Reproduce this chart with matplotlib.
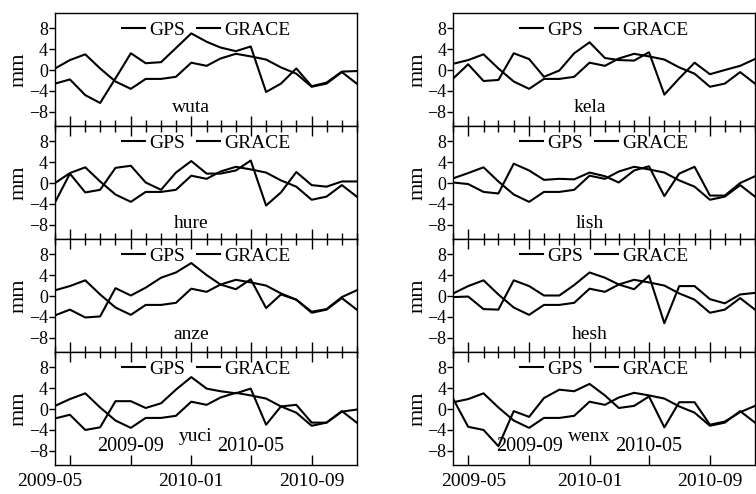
import pandas as pd
import matplotlib
matplotlib.use("Agg")
import matplotlib.pyplot as plt
import matplotlib.dates as mdates
import matplotlib.transforms as mtransforms

plt.rcParams['font.family'] = 'serif'
plt.rcParams['font.serif'] = ['Liberation Serif', 'DejaVu Serif']

# monthly series, 2009-04 .. 2010-12
months = pd.date_range('2009-04-01', periods=21, freq='MS')

grace = [1.0, 1.9, 3.0, 0.3, -2.2, -3.6, -1.7, -1.7, -1.3, 1.4, 0.8,
         2.2, 3.1, 2.6, 2.0, 0.5, -0.7, -3.2, -2.6, -0.4, -2.6]

stations = ['wuta', 'kela', 'hure', 'lish', 'anze', 'hesh', 'yuci', 'wenx']
grace_first = [0.3, 1.2, 0.0, 0.9, 1.1, 0.5, 0.6, 1.3]

wuta = [-2.6, -1.8, -4.8, -6.3, -1.6, 3.2, 1.3, 1.5, 4.2, 7.0, 5.4,
        4.3, 3.6, 4.5, -4.2, -2.6, 0.3, -3.1, -2.4, -0.3, -0.2]
kela = [-1.6, 1.1, -2.1, -1.9, 3.2, 2.1, -1.3, -0.1, 3.2, 5.3, 2.3,
        1.9, 1.8, 3.4, -4.7, -1.6, 1.4, -0.8, 0.0, 0.8, 2.1]
hure = [-3.7, 1.8, -1.8, -1.3, 2.9, 3.3, 0.1, -1.3, 2.0, 4.2, 1.8,
        1.8, 2.4, 4.3, -4.3, -1.8, 2.1, -0.4, -0.7, 0.3, 0.3]
lish = [0.1, -0.2, -1.7, -2.0, 3.7, 2.4, 0.6, 0.8, 0.7, 2.0, 1.3,
        0.1, 2.4, 3.2, -2.5, 1.8, 3.1, -2.4, -2.4, 0.0, 1.3]
anze = [-3.7, -2.6, -4.1, -3.9, 1.5, 0.1, 1.6, 3.5, 4.5, 6.3, 4.0,
        2.2, 1.3, 3.2, -2.3, 0.3, -0.7, -3.0, -2.5, -0.2, 1.1]
hesh = [-0.2, -0.1, -2.5, -2.6, 3.0, 1.9, 0.1, 0.1, 2.1, 4.5, 3.5,
        2.2, 1.3, 3.9, -5.2, 1.9, 1.9, -0.6, -1.4, 0.3, 0.6]
yuci = [-1.8, -1.1, -4.0, -3.5, 1.5, 1.5, 0.2, 1.1, 3.7, 6.1, 3.9,
        3.4, 3.0, 3.9, -3.0, 0.5, 0.8, -2.6, -2.6, -0.5, -0.1]
wenx = [1.9, -3.4, -4.0, -7.1, -0.4, -1.5, 2.1, 3.7, 3.4, 4.8, 2.6,
        0.2, 0.6, 2.4, -3.5, 1.3, 1.3, -3.0, -2.4, -0.6, 0.6]
gps = [wuta, kela, hure, lish, anze, hesh, yuci, wenx]

major_dates = pd.to_datetime(['2009-05-01', '2009-09-01', '2010-01-01',
                              '2010-05-01', '2010-09-01'])
major_labels = ['2009-05', '', '2010-01', '', '2010-09']
inside_labels = ['2009-09', '2010-05']

fig, axes = plt.subplots(4, 2, figsize=(7.56, 4.94), dpi=100, sharex=True,
                         gridspec_kw=dict(left=0.0728, right=0.9987,
                                          top=0.9737, bottom=0.0587,
                                          hspace=0, wspace=0.32))

name_y = [-7.2, -7.8, -7.3, -5.3]

for k, name in enumerate(stations):
    row, col = divmod(k, 2)
    ax = axes[row, col]
    gr = [grace_first[k]] + grace[1:]
    ax.plot(months, gps[k], color='black', lw=1.5, label='GPS')
    ax.plot(months, gr, color='black', lw=1.5, label='GRACE')

    ax.set_xlim(months[0], months[-1])
    ax.set_ylim(-10.7, 10.9)
    ax.set_yticks([-8, -4, 0, 4, 8])
    ax.set_ylabel('mm', fontsize=16, labelpad=0)
    ax.tick_params(axis='y', direction='out', length=4, width=1,
                   labelsize=13, pad=1, right=False)

    ax.xaxis.set_minor_locator(mdates.MonthLocator())
    ax.set_xticks(major_dates)
    ax.set_xticklabels(major_labels)
    ax.tick_params(axis='x', which='major', direction='in', length=7,
                   width=1, top=(row > 0), labelsize=14, pad=6)
    ax.tick_params(axis='x', which='minor', direction='in', length=4,
                   width=1, top=(row > 0), bottom=(row < 3))

    for sp in ax.spines.values():
        sp.set_linewidth(1)

    ax.legend(loc='upper center', ncol=2, frameon=False, fontsize=14,
              handlelength=1.2, handletextpad=0.2, columnspacing=0.6,
              borderaxespad=0.28, borderpad=0.15)

    xn = mdates.date2num(months[9])
    if row == 3 and col == 0:
        xn += 8
    ax.text(xn, name_y[row], name, ha='center', va='center', fontsize=14)

    if row == 3:
        for d, lab in zip([major_dates[1], major_dates[3]], inside_labels):
            ax.text(d, -7.2, lab, ha='center', va='center', fontsize=14.5)
        first = ax.get_xticklabels()[0]
        shift = -20 if col == 0 else 6
        first.set_transform(first.get_transform() +
                            mtransforms.ScaledTranslation(shift / 100, 0,
                                                          fig.dpi_scale_trans))

fig.savefig('out.png', dpi=100)
